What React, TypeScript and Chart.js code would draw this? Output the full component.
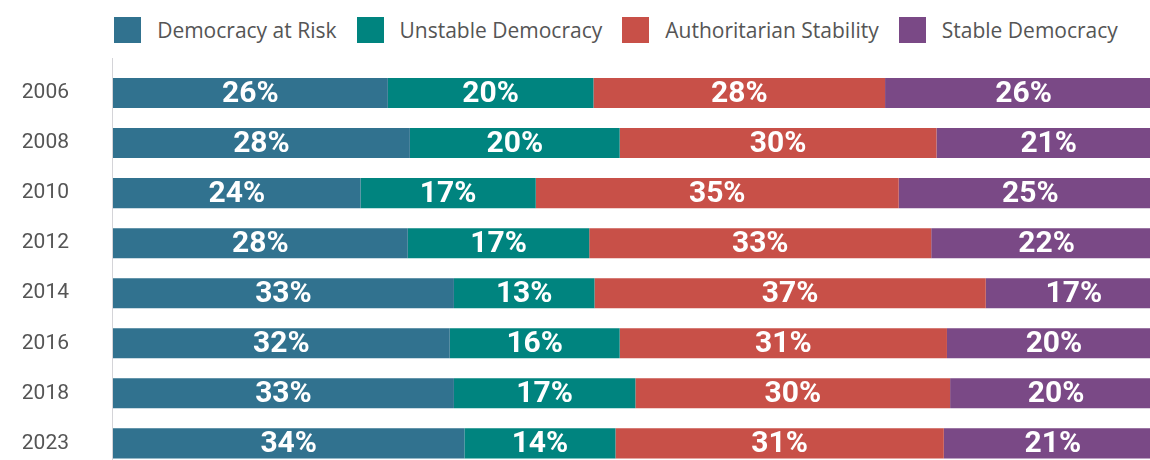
import React, { useEffect, useRef } from "react";
import { Chart, registerables } from "chart.js";

Chart.register(...registerables);

const years = ["2006", "2008", "2010", "2012", "2014", "2016", "2018", "2023"];
const seriesNames = ["Democracy at Risk", "Unstable Democracy", "Authoritarian Stability", "Stable Democracy"];
const democracyAtRisk = [26.2, 28.3, 23.6, 28.1, 32.5, 32.1, 32.5, 33.5];
const unstableDemocracy = [19.6, 20.0, 16.7, 17.3, 13.4, 16.2, 17.3, 14.4];
const authoritarianStability = [27.8, 30.2, 34.6, 32.6, 37.3, 31.2, 30.0, 31.3];
const stableDemocracy = [26.4, 21.4, 25.1, 22.0, 16.8, 20.4, 20.2, 20.8];
const seriesColors = ["#31728F", "#00847F", "#C85048", "#7A4986"];

const seriesValues = [democracyAtRisk, unstableDemocracy, authoritarianStability, stableDemocracy];

const axisLinePlugin = {
  id: "axisLine",
  beforeDatasetsDraw(chart: any) {
    const { ctx, chartArea } = chart;
    ctx.save();
    ctx.strokeStyle = "#d4d4d8";
    ctx.lineWidth = 1;
    ctx.beginPath();
    ctx.moveTo(chartArea.left - 0.5, chartArea.top - 10);
    ctx.lineTo(chartArea.left - 0.5, chartArea.bottom);
    ctx.stroke();
    ctx.restore();
  },
};

const barLabelPlugin = {
  id: "barLabels",
  afterDatasetsDraw(chart: any) {
    const ctx = chart.ctx;
    ctx.save();
    ctx.fillStyle = "#ffffff";
    ctx.font = "bold 30px Roboto";
    ctx.textAlign = "center";
    ctx.textBaseline = "middle";
    chart.data.datasets.forEach((ds: any, di: number) => {
      const meta = chart.getDatasetMeta(di);
      meta.data.forEach((bar: any, i: number) => {
        const v = ds.data[i];
        const cx = (bar.x + bar.base) / 2;
        ctx.fillText(Math.round(v) + "%", cx, bar.y + 1);
      });
    });
    ctx.restore();
  },
};

export default function App() {
  const canvasRef = useRef<HTMLCanvasElement | null>(null);

  useEffect(() => {
    if (!canvasRef.current) return;
    const chart = new Chart(canvasRef.current, {
      type: "bar",
      data: {
        labels: years,
        datasets: seriesNames.map((name, i) => ({
          label: name,
          data: seriesValues[i],
          backgroundColor: seriesColors[i],
          borderWidth: 0,
          barPercentage: 0.6,
          categoryPercentage: 1,
        })),
      },
      options: {
        indexAxis: "y",
        responsive: true,
        maintainAspectRatio: false,
        animation: false,
        layout: { padding: { top: 68, right: 70, bottom: 0, left: 0 } },
        plugins: {
          legend: { display: false },
          tooltip: { enabled: false },
        },
        scales: {
          x: {
            stacked: true,
            min: 0,
            max: 100,
            display: false,
          },
          y: {
            stacked: true,
            grid: { display: false, drawTicks: false },
            border: { display: false },
            ticks: {
              padding: 44,
              color: "#555555",
              font: { family: "Roboto", size: 21 },
            },
            afterFit: (scale: any) => {
              scale.width = 113;
            },
          },
        },
      },
      plugins: [axisLinePlugin, barLabelPlugin],
    });
    return () => chart.destroy();
  }, []);

  return (
    <div style={{ position: "fixed", left: 0, top: 0, width: 1150, height: 460, overflow: "hidden", background: "#fff" }}>
      <div style={{ position: "absolute", left: 0, top: 0, width: 1232, height: 525 }}>
        <div
          style={{
            position: "absolute",
            left: 0,
            top: 17,
            width: 1232,
            display: "flex",
            justifyContent: "center",
            alignItems: "center",
            height: 26,
            fontFamily: "'Open Sans', sans-serif",
            fontSize: 21,
            color: "#555555",
          }}
        >
          {seriesNames.map((name, i) => (
            <div key={name} style={{ display: "flex", alignItems: "center", marginRight: i < seriesNames.length - 1 ? 20 : 0 }}>
              <span style={{ display: "inline-block", width: 27, height: 26, background: seriesColors[i], marginRight: 16 }} />
              <span style={{ whiteSpace: "nowrap", lineHeight: "26px" }}>{name}</span>
            </div>
          ))}
        </div>
        <div style={{ position: "absolute", left: 0, top: 0, width: 1232, height: 525 }}>
          <canvas ref={canvasRef} />
        </div>
      </div>
    </div>
  );
}
